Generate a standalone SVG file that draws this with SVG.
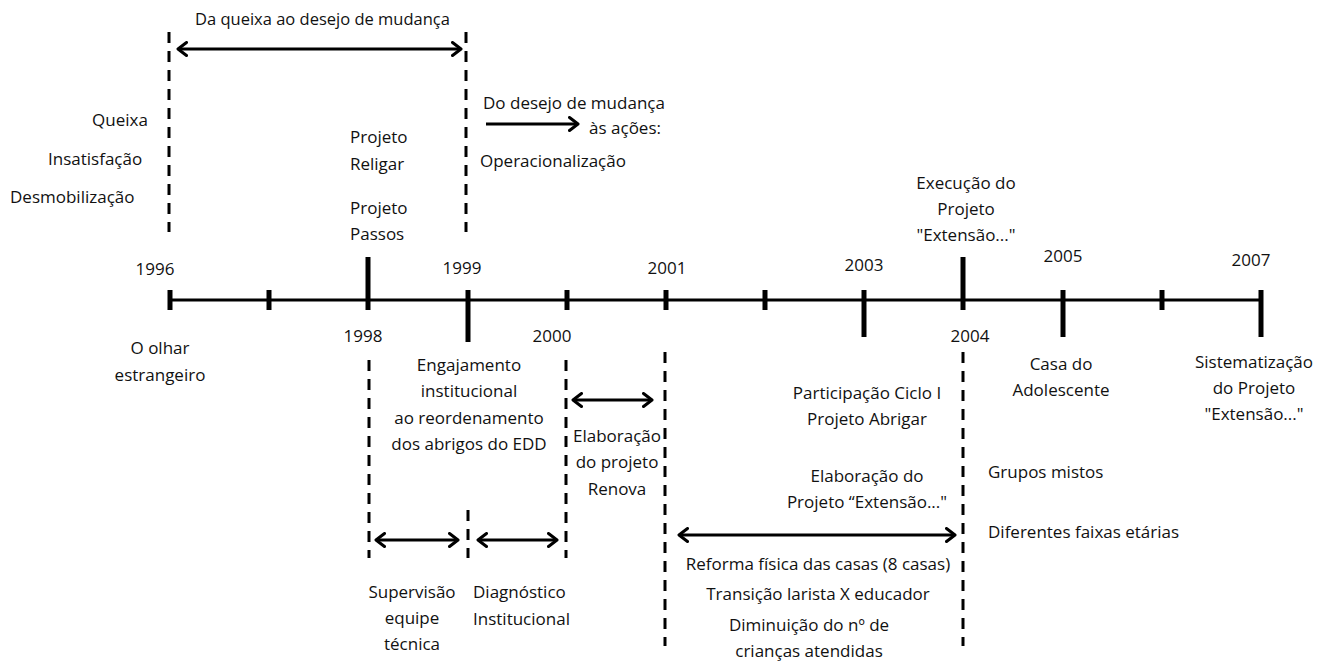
<svg xmlns="http://www.w3.org/2000/svg" width="1332" height="664" viewBox="0 0 1332 664">
<style>
text{font-family:"Open Sans","DejaVu Sans",sans-serif;font-size:17px;fill:#111}
.m{text-anchor:middle}
.e{text-anchor:end}
.axis{stroke:#000;stroke-width:3;fill:none}
.tk{stroke:#000;stroke-width:5;fill:none}
.dash{stroke:#000;stroke-width:3;stroke-dasharray:11 8;fill:none}
.arr{stroke:#000;stroke-width:3;fill:none}
</style>
<defs>
<marker id="ah" viewBox="0 0 12 16" refX="10" refY="8" markerWidth="12" markerHeight="16" markerUnits="userSpaceOnUse" orient="auto-start-reverse">
<path d="M1.5,1.5 L10,8 L1.5,14.5" fill="none" stroke="#000" stroke-width="3" stroke-linecap="round" stroke-linejoin="round"/>
</marker>
</defs>
<rect width="1332" height="664" fill="#fff"/>

<g id="timeline">
<line class="axis" x1="170" y1="300" x2="1261" y2="300"/>
<line class="tk" x1="170" y1="290" x2="170" y2="310"/>
<line class="tk" x1="269" y1="290" x2="269" y2="310"/>
<line class="tk" x1="368" y1="257" x2="368" y2="310"/>
<line class="tk" x1="468" y1="290" x2="468" y2="342"/>
<line class="tk" x1="567" y1="290" x2="567" y2="310"/>
<line class="tk" x1="666" y1="290" x2="666" y2="310"/>
<line class="tk" x1="765" y1="290" x2="765" y2="310"/>
<line class="tk" x1="864" y1="290" x2="864" y2="337"/>
<line class="tk" x1="963" y1="257" x2="963" y2="310"/>
<line class="tk" x1="1063" y1="290" x2="1063" y2="337"/>
<line class="tk" x1="1162" y1="290" x2="1162" y2="310"/>
<line class="tk" x1="1261" y1="290" x2="1261" y2="337"/>
<text class="m" x="155" y="275">1996</text>
<text class="m" x="363" y="342">1998</text>
<text class="m" x="462" y="274">1999</text>
<text class="m" x="552" y="342">2000</text>
<text class="m" x="667" y="274">2001</text>
<text class="m" x="864" y="271">2003</text>
<text class="m" x="970" y="342">2004</text>
<text class="m" x="1063" y="262">2005</text>
<text class="m" x="1251" y="266">2007</text>
</g>

<g id="connectors">
<line class="dash" x1="169" y1="32" x2="169" y2="232"/>
<line class="dash" x1="466" y1="32" x2="466" y2="232"/>
<line class="dash" x1="369" y1="360" x2="369" y2="558"/>
<line class="dash" x1="468" y1="510" x2="468" y2="558"/>
<line class="dash" x1="566" y1="360" x2="566" y2="558"/>
<line class="dash" x1="665" y1="352" x2="665" y2="646"/>
<line class="dash" x1="963" y1="352" x2="963" y2="646"/>
<line class="arr" x1="178" y1="49" x2="461" y2="49" marker-start="url(#ah)" marker-end="url(#ah)"/>
<line class="arr" x1="486" y1="124" x2="578" y2="124" marker-end="url(#ah)"/>
<line class="arr" x1="376" y1="540" x2="458" y2="540" marker-start="url(#ah)" marker-end="url(#ah)"/>
<line class="arr" x1="478" y1="540" x2="557" y2="540" marker-start="url(#ah)" marker-end="url(#ah)"/>
<line class="arr" x1="573" y1="400" x2="652" y2="400" marker-start="url(#ah)" marker-end="url(#ah)"/>
<line class="arr" x1="679" y1="535" x2="955" y2="535" marker-start="url(#ah)" marker-end="url(#ah)"/>
</g>

<g id="n-titulo"><text x="195" y="25" style="font-size:16.5px">Da queixa ao desejo de mudança</text></g>
<g id="n-queixa">
<text x="92" y="126">Queixa</text>
<text x="48" y="165">Insatisfação</text>
<text x="10" y="203">Desmobilização</text>
</g>
<g id="n-projetos">
<text x="350" y="143">Projeto</text>
<text x="350" y="170">Religar</text>
<text x="350" y="214">Projeto</text>
<text x="350" y="240">Passos</text>
</g>
<g id="n-acoes">
<text x="483" y="109">Do desejo de mudança</text>
<text class="e" x="661" y="134">às ações:</text>
<text x="480" y="167">Operacionalização</text>
</g>
<g id="n-execucao">
<text class="m" x="966" y="189">Execução do</text>
<text class="m" x="966" y="215">Projeto</text>
<text class="m" x="966" y="241">"Extensão..."</text>
</g>
<g id="n-olhar">
<text class="m" x="160" y="354">O olhar</text>
<text class="m" x="160" y="381">estrangeiro</text>
</g>
<g id="n-engajamento">
<text class="m" x="469" y="371">Engajamento</text>
<text class="m" x="469" y="397">institucional</text>
<text class="m" x="469" y="424">ao reordenamento</text>
<text class="m" x="469" y="450">dos abrigos do EDD</text>
</g>
<g id="n-renova">
<text class="m" x="617" y="442">Elaboração</text>
<text class="m" x="617" y="468">do projeto</text>
<text class="m" x="617" y="495">Renova</text>
</g>
<g id="n-supervisao">
<text class="m" x="412" y="598">Supervisão</text>
<text class="m" x="412" y="624">equipe</text>
<text class="m" x="412" y="650">técnica</text>
</g>
<g id="n-diagnostico">
<text x="473" y="598">Diagnóstico</text>
<text x="473" y="625">Institucional</text>
</g>
<g id="n-abrigar">
<text class="m" x="867" y="399">Participação Ciclo I</text>
<text class="m" x="867" y="425">Projeto Abrigar</text>
<text class="m" x="867" y="482">Elaboração do</text>
<text class="m" x="867" y="508">Projeto “Extensão..."</text>
</g>
<g id="n-reforma">
<text class="m" x="818" y="570">Reforma física das casas (8 casas)</text>
<text class="m" x="818" y="600">Transição larista X educador</text>
<text class="m" x="809" y="631">Diminuição do nº de</text>
<text class="m" x="809" y="657">crianças atendidas</text>
</g>
<g id="n-casa">
<text class="m" x="1061" y="370">Casa do</text>
<text class="m" x="1061" y="396">Adolescente</text>
</g>
<g id="n-grupos">
<text x="988" y="478">Grupos mistos</text>
<text x="988" y="538">Diferentes faixas etárias</text>
</g>
<g id="n-sistematizacao">
<text class="m" x="1254" y="368">Sistematização</text>
<text class="m" x="1254" y="394">do Projeto</text>
<text class="m" x="1254" y="420">"Extensão..."</text>
</g>
</svg>
